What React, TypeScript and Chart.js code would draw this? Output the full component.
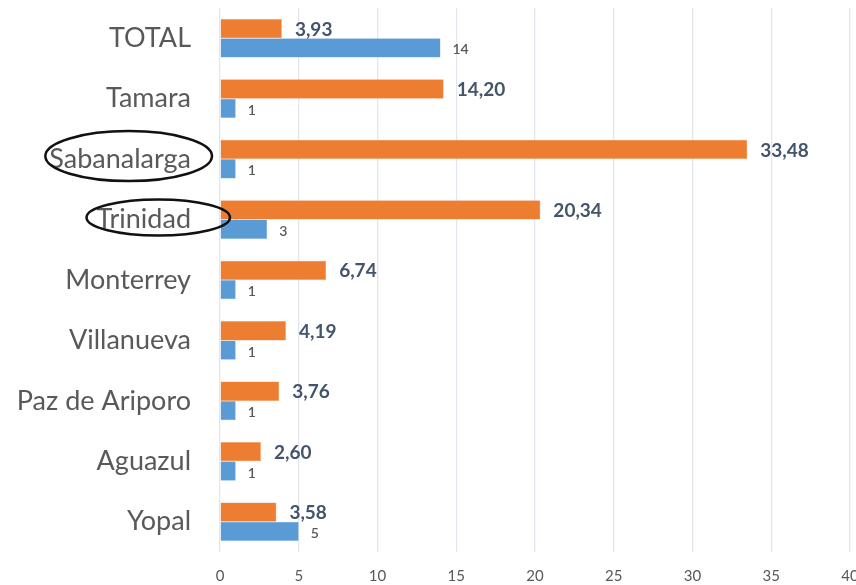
import React, { useEffect, useRef } from "react";
import { Chart, registerables } from "chart.js";

Chart.register(...registerables);

const categories = ["TOTAL", "Tamara", "Sabanalarga", "Trinidad", "Monterrey", "Villanueva", "Paz de Ariporo", "Aguazul", "Yopal"];
const orangeValues = [3.93, 14.2, 33.48, 20.34, 6.74, 4.19, 3.76, 2.6, 3.58];
const blueValues = [14, 1, 1, 3, 1, 1, 1, 1, 5];
const circledCategories = ["Sabanalarga", "Trinidad"];
const xTicks = [0, 5, 10, 15, 20, 25, 30, 35, 40];

const FONT = "Lato, 'Open Sans', sans-serif";
const CAT_SIZE = 27;
const CAT_PAD = 21;

const labelsPlugin = {
  id: "valueLabels",
  afterDatasetsDraw(chart: any) {
    const ctx = chart.ctx;
    ctx.save();
    chart.data.datasets.forEach((ds: any, di: number) => {
      const meta = chart.getDatasetMeta(di);
      meta.data.forEach((bar: any, i: number) => {
        const v = ds.data[i];
        const txt = di === 0 ? v.toFixed(2).replace(".", ",") : String(v);
        ctx.font = di === 0 ? `bold 19px ${FONT}` : `600 14px ${FONT}`;
        ctx.fillStyle = di === 0 ? "#44546A" : "#595959";
        ctx.textAlign = "left";
        ctx.textBaseline = "middle";
        ctx.fillText(txt, bar.x + (di === 0 ? 13 : 12), bar.y + (di === 0 ? 1 : 2));
      });
    });
    ctx.restore();
  },
};

const ellipseStyle: Record<string, { l: number; r: number; dy: number; ry: number }> = {
  Sabanalarga: { l: 12, r: 13, dy: -3, ry: 25 },
  Trinidad: { l: 18, r: 31, dy: -2, ry: 18 },
};

const ellipsePlugin = {
  id: "ellipses",
  afterDraw(chart: any) {
    const ctx = chart.ctx;
    const ys = chart.scales.y;
    ctx.save();
    ctx.strokeStyle = "#111";
    ctx.lineWidth = 2.5;
    circledCategories.forEach((name) => {
      const i = categories.indexOf(name);
      const st = ellipseStyle[name];
      const cy = ys.getPixelForValue(i) + st.dy;
      ctx.font = `${CAT_SIZE}px ${FONT}`;
      const w = ctx.measureText(name).width;
      const right = ys.right - CAT_PAD + st.r;
      const left = ys.right - CAT_PAD - w - st.l;
      ctx.beginPath();
      ctx.ellipse((left + right) / 2, cy, (right - left) / 2, st.ry, 0, 0, Math.PI * 2);
      ctx.stroke();
    });
    ctx.restore();
  },
};

export default function App() {
  const ref = useRef<HTMLCanvasElement>(null);
  useEffect(() => {
    const chart = new Chart(ref.current!, {
      type: "bar",
      data: {
        labels: categories,
        datasets: [
          { data: orangeValues, backgroundColor: "#ED7D31", borderColor: "#F4A46E", borderWidth: 0.5, barPercentage: 1, categoryPercentage: 0.64 },
          { data: blueValues, backgroundColor: "#5B9BD5", borderColor: "#8DBBE4", borderWidth: 0.5, barPercentage: 1, categoryPercentage: 0.64 },
        ],
      },
      options: {
        indexAxis: "y",
        animation: false,
        responsive: false,
        layout: { padding: { top: 8, right: 6, left: 0, bottom: 0 } },
        plugins: { legend: { display: false }, tooltip: { enabled: false } },
        scales: {
          x: {
            min: 0,
            max: 40,
            afterBuildTicks: (s: any) => { s.ticks = xTicks.map((v) => ({ value: v })); },
            afterFit: (s: any) => { s.height = 33; s.paddingRight = 0; s.paddingLeft = 0; },
            grid: { color: "#E3E6EE", lineWidth: 1.3, drawTicks: false },
            border: { display: false },
            ticks: { color: "#595959", font: { family: FONT, size: 15 }, padding: 15 },
          },
          y: {
            afterFit: (s: any) => { s.width = 220; s.paddingTop = 0; s.paddingBottom = 0; },
            grid: { display: false },
            border: { display: false },
            ticks: { color: "#595959", font: { family: FONT, size: CAT_SIZE }, padding: CAT_PAD },
          },
        },
      },
      plugins: [labelsPlugin, ellipsePlugin],
    });
    return () => chart.destroy();
  }, []);
  return (
    <div style={{ position: "fixed", left: 0, top: 0, width: 856, height: 585, background: "#fff" }}>
      <canvas ref={ref} width={856} height={585} />
    </div>
  );
}
